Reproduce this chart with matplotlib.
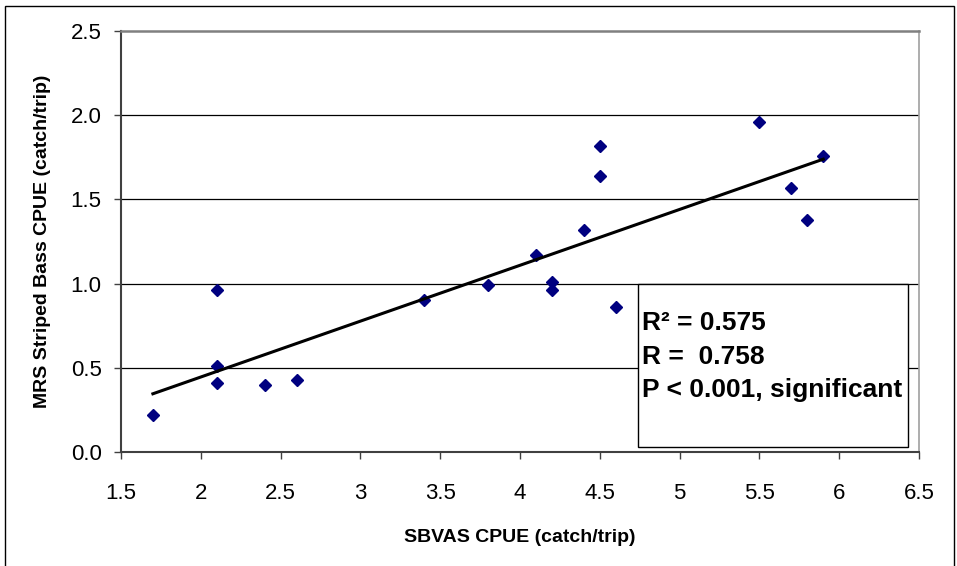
import numpy as np
import matplotlib
matplotlib.use('Agg')
import matplotlib.pyplot as plt
from matplotlib.patches import Rectangle

plt.rcParams['font.family'] = ['Liberation Sans', 'DejaVu Sans']

# SBVAS CPUE vs MRS striped bass CPUE (catch/trip)
sbvas = [1.7, 2.1, 2.1, 2.1, 2.4, 2.6, 3.4, 3.8, 4.1, 4.2, 4.2, 4.4, 4.5, 4.5, 4.6, 5.5, 5.7, 5.8, 5.9]
mrs = [0.22, 0.96, 0.51, 0.41, 0.40, 0.43, 0.90, 0.99, 1.17, 1.01, 0.96, 1.32, 1.82, 1.64, 0.86, 1.96, 1.57, 1.38, 1.76]

xticks = [1.5, 2, 2.5, 3, 3.5, 4, 4.5, 5, 5.5, 6, 6.5]
xticklabels = ['1.5', '2', '2.5', '3', '3.5', '4', '4.5', '5', '5.5', '6', '6.5']
yticks = [0.0, 0.5, 1.0, 1.5, 2.0, 2.5]

stats_lines = ['R\u00b2 = 0.575', 'R =  0.758', 'P < 0.001, significant']

x = np.array(sbvas)
y = np.array(mrs)

fig = plt.figure(figsize=(9.57, 5.66), dpi=100)
ax = fig.add_axes([0.1264, 0.2014, 0.8339, 0.7438])

# outer chart border
fig.add_artist(Rectangle((5 / 957, -0.05), 949 / 957, 1.05 - 6 / 566,
                         transform=fig.transFigure, fill=False, ec='black', lw=1.0))

for yv in yticks[1:-1]:
    ax.axhline(yv, color='black', lw=0.9, zorder=1)

ax.plot(x, y, linestyle='none', marker='D', ms=6.6, color='#000080', zorder=3)

# least squares trend line
slope, icpt = np.polyfit(x, y, 1)
xs = np.array([x.min(), x.max()])
ax.plot(xs, slope * xs + icpt, color='black', lw=2.2, zorder=4)

ax.set_xlim(1.5, 6.5)
ax.set_ylim(0, 2.5)
ax.set_xticks(xticks)
ax.set_xticklabels(xticklabels)
ax.set_yticks(yticks)
ax.set_yticklabels(['%.1f' % v for v in yticks])
ax.tick_params(axis='both', direction='out', length=5, width=1.0, color='#404040', labelsize=16)
ax.tick_params(axis='x', pad=17)
ax.tick_params(axis='y', pad=9)

ax.spines['left'].set_color('#404040')
ax.spines['bottom'].set_color('#404040')
ax.spines['left'].set_linewidth(1.5)
ax.spines['bottom'].set_linewidth(1.5)
ax.spines['top'].set_color('#808080')
ax.spines['top'].set_linewidth(1.8)
ax.spines['right'].set_color('#a0a0a0')
ax.spines['right'].set_linewidth(1.2)

ax.set_xlabel('SBVAS CPUE (catch/trip)', fontsize=14, fontweight='bold', labelpad=18)
ax.set_ylabel('MRS Striped Bass CPUE (catch/trip)', fontsize=14, fontweight='bold', labelpad=14)

# stats box
ax.add_patch(Rectangle((0.648, 0.012), 0.338, 0.387, transform=ax.transAxes,
                       fill=True, fc='white', ec='black', lw=1.0, zorder=5))
for i, line in enumerate(stats_lines):
    ax.text(0.653, 0.289 - i * 0.079, line, transform=ax.transAxes, fontsize=19,
            fontweight='bold', ha='left', va='baseline', zorder=6)

fig.savefig('out.png', dpi=100)
